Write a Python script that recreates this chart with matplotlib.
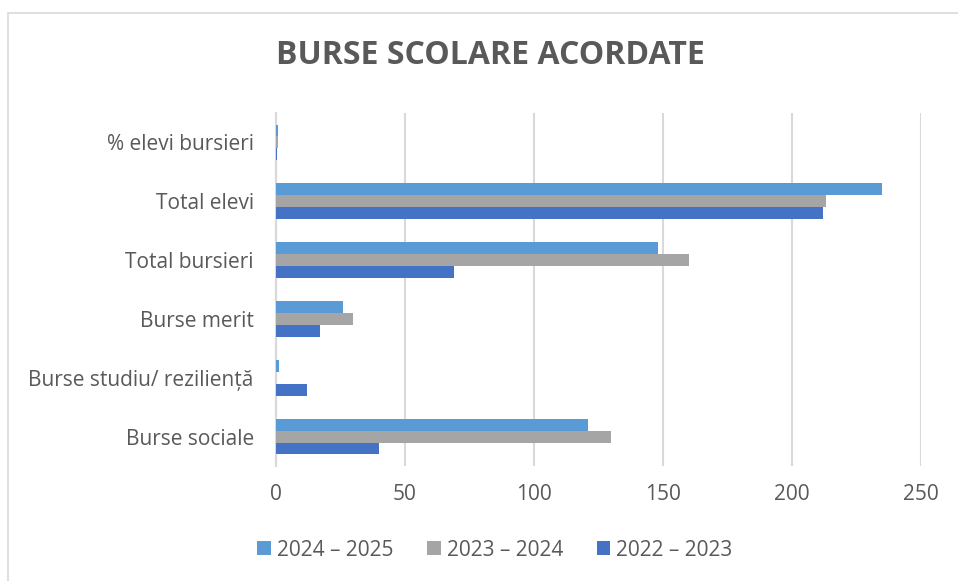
import numpy as np
import matplotlib
matplotlib.use("Agg")
import matplotlib.pyplot as plt
from matplotlib.patches import Rectangle

categorii = ["Burse sociale", "Burse studiu/ reziliență", "Burse merit",
             "Total bursieri", "Total elevi", "% elevi bursieri"]
ani = ["2024 – 2025", "2023 – 2024", "2022 – 2023"]
v_2024_2025 = [121, 1, 26, 148, 235, 0.63]
v_2023_2024 = [130, 0, 30, 160, 213, 0.75]
v_2022_2023 = [40, 12, 17, 69, 212, 0.33]
culori = ["#5B9BD5", "#A5A5A5", "#4472C4"]

plt.rcParams["font.family"] = ["Open Sans", "DejaVu Sans"]
text_col = "#595959"

fig = plt.figure(figsize=(9.58, 5.81), dpi=100)
ax = fig.add_axes([276 / 958, 1 - 466 / 581, (921 - 276) / 958, (466 - 113) / 581])

y = np.arange(len(categorii))
h = 0.203
serii = [v_2024_2025, v_2023_2024, v_2022_2023]
for i, (vals, c, lab) in enumerate(zip(serii, culori, ani)):
    ax.barh(y + h - i * h, vals, height=h, color=c, label=lab, zorder=3)

ax.set_xlim(0, 250)
ax.set_ylim(-0.5, len(categorii) - 0.5)
ax.set_xticks(range(0, 251, 50))
ax.set_yticks(y)
ax.set_yticklabels(categorii)
ax.tick_params(axis="both", length=0, labelsize=15, labelcolor=text_col)
ax.tick_params(axis="y", pad=16)
ax.tick_params(axis="x", pad=13)
ax.grid(axis="x", color="#D9D9D9", linewidth=1.5, zorder=0)
for s in ["top", "right", "bottom"]:
    ax.spines[s].set_visible(False)
ax.spines["left"].set_color("#D9D9D9")
ax.spines["left"].set_linewidth(1.5)

fig.text(490 / 958, 1 - 56 / 581, "BURSE SCOLARE ACORDATE", ha="center", va="center",
         fontsize=23, fontweight="bold", color=text_col)

leg = fig.legend(loc="center", bbox_to_anchor=(495 / 958, 1 - 550 / 581), ncol=3,
                 frameon=False, fontsize=15, handlelength=0.65, handleheight=0.65,
                 handletextpad=0.3, columnspacing=1.6)
for t in leg.get_texts():
    t.set_color(text_col)

fig.patches.append(Rectangle((8 / 958, -0.01), 1.0, 1 - 13 / 581 + 0.01, transform=fig.transFigure,
                             fill=False, edgecolor="#D9D9D9", linewidth=1.2))

fig.savefig("out.png", dpi=100)
